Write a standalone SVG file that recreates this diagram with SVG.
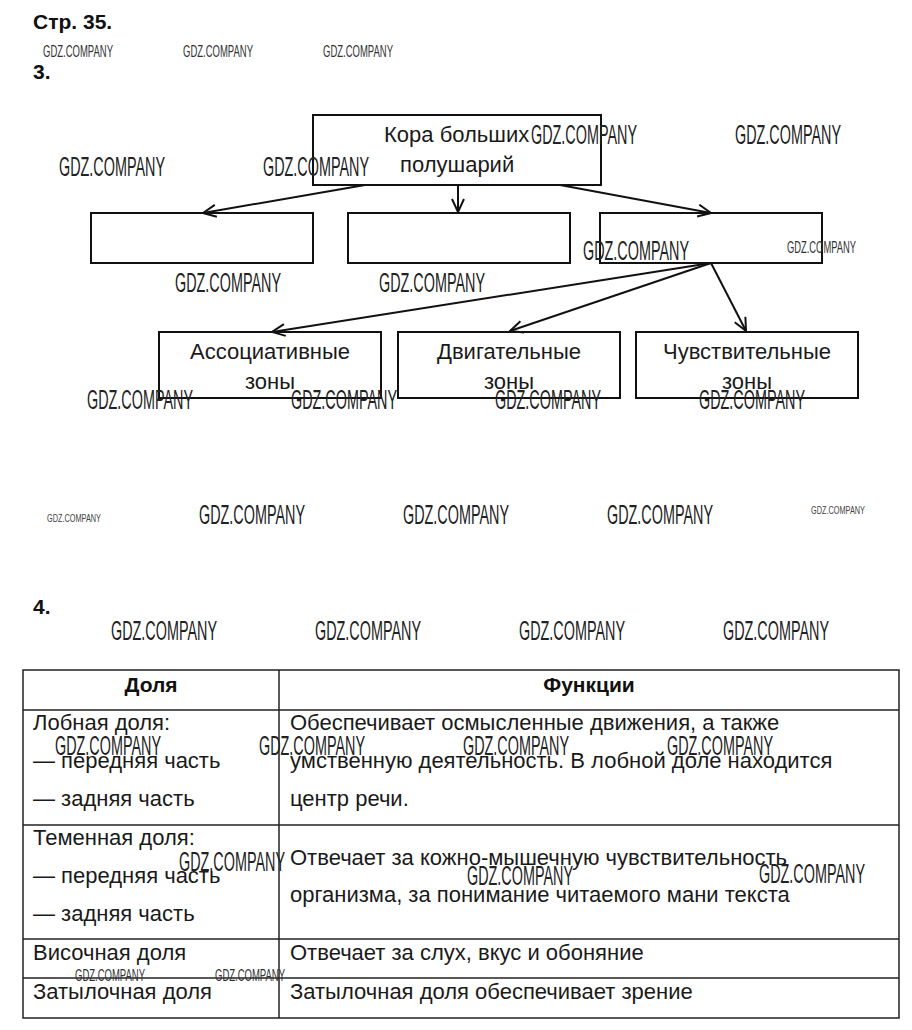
<svg xmlns="http://www.w3.org/2000/svg" width="912" height="1030" viewBox="0 0 912 1030">
<style>
.bg{fill:#fff}
.h{font-family:"Liberation Sans",Arial,sans-serif;font-weight:bold;font-size:21px;fill:#111}
.box{fill:none;stroke:#111;stroke-width:2}
.t{font-family:"Liberation Sans",Arial,sans-serif;font-size:22px;fill:#1a1a1a}
.tc{font-family:"Liberation Sans",Arial,sans-serif;font-size:22px;fill:#1a1a1a;text-anchor:middle}
.th{font-family:"Liberation Sans",Arial,sans-serif;font-size:21px;font-weight:bold;fill:#111;text-anchor:middle}
.wm{font-family:"Liberation Sans",Arial,sans-serif;font-size:27px;fill:#222}
.ws{font-family:"Liberation Sans",Arial,sans-serif;font-size:16px;fill:#333}
.wt{font-family:"Liberation Sans",Arial,sans-serif;font-size:11px;fill:#444}
.conn{fill:none;stroke:#111;stroke-width:2;marker-end:url(#arr)}
.grid{fill:none;stroke:#222;stroke-width:1.5}
</style>
<defs>
<marker id="arr" markerUnits="userSpaceOnUse" markerWidth="16" markerHeight="16" refX="14" refY="7" orient="auto">
<path d="M1,1 L14,7 L1,13" fill="none" stroke="#111" stroke-width="2"/>
</marker>
</defs>
<rect class="bg" x="0" y="0" width="912" height="1030"/>

<text class="h" x="33" y="29">Стр. 35.</text>
<text class="h" x="33" y="79">3.</text>
<text class="h" x="33" y="614">4.</text>

<g id="connectors">
<line class="conn" x1="365" y1="185" x2="203" y2="213"/>
<line class="conn" x1="458" y1="185" x2="458" y2="212"/>
<line class="conn" x1="560" y1="185" x2="711" y2="213"/>
<line class="conn" x1="711" y1="263" x2="272" y2="332"/>
<line class="conn" x1="711" y1="263" x2="510" y2="331"/>
<line class="conn" x1="711" y1="263" x2="746" y2="331"/>
</g>

<g id="node-cortex">
<rect class="box" x="313" y="115" width="288" height="70"/>
<text class="t" x="384" y="142">Кора больших</text>
<text class="t" x="400" y="172">полушарий</text>
</g>
<g id="node-blank1"><rect class="box" x="91" y="213" width="222" height="50"/></g>
<g id="node-blank2"><rect class="box" x="348" y="213" width="222" height="50"/></g>
<g id="node-blank3"><rect class="box" x="600" y="213" width="222" height="50"/></g>
<g id="node-assoc">
<rect class="box" x="159" y="332" width="222" height="66"/>
<text class="tc" x="270" y="359">Ассоциативные</text>
<text class="tc" x="270" y="389">зоны</text>
</g>
<g id="node-motor">
<rect class="box" x="398" y="332" width="222" height="66"/>
<text class="tc" x="509" y="359">Двигательные</text>
<text class="tc" x="509" y="389">зоны</text>
</g>
<g id="node-sensory">
<rect class="box" x="636" y="332" width="222" height="66"/>
<text class="tc" x="747" y="359">Чувствительные</text>
<text class="tc" x="747" y="389">зоны</text>
</g>

<g id="table">
<rect class="grid" x="23" y="670" width="876" height="348"/>
<line class="grid" x1="279" y1="670" x2="279" y2="1018" stroke-width="1"/>
<line class="grid" x1="23" y1="710" x2="899" y2="710"/>
<line class="grid" x1="23" y1="825" x2="899" y2="825"/>
<line class="grid" x1="23" y1="939" x2="899" y2="939"/>
<line class="grid" x1="23" y1="978" x2="899" y2="978"/>
<text class="th" x="151" y="692">Доля</text>
<text class="th" x="589" y="692">Функции</text>
<text class="t" x="33" y="730">Лобная доля:</text>
<text class="t" x="33" y="768">— передняя часть</text>
<text class="t" x="33" y="806">— задняя часть</text>
<text class="t" x="290" y="730">Обеспечивает осмысленные движения, а также</text>
<text class="t" x="290" y="768">умственную деятельность. В лобной доле находится</text>
<text class="t" x="290" y="806">центр речи.</text>
<text class="t" x="33" y="845">Теменная доля:</text>
<text class="t" x="33" y="883">— передняя часть</text>
<text class="t" x="33" y="921">— задняя часть</text>
<text class="t" x="290" y="865">Отвечает за кожно-мышечную чувствительность</text>
<text class="t" x="290" y="902">организма, за понимание читаемого мани текста</text>
<text class="t" x="33" y="960">Височная доля</text>
<text class="t" x="290" y="960">Отвечает за слух, вкус и обоняние</text>
<text class="t" x="33" y="999">Затылочная доля</text>
<text class="t" x="290" y="999">Затылочная доля обеспечивает зрение</text>
</g>

<g id="watermarks">
<text class="ws" x="43" y="57" textLength="70" lengthAdjust="spacingAndGlyphs">GDZ.COMPANY</text>
<text class="ws" x="183" y="57" textLength="70" lengthAdjust="spacingAndGlyphs">GDZ.COMPANY</text>
<text class="ws" x="323" y="57" textLength="70" lengthAdjust="spacingAndGlyphs">GDZ.COMPANY</text>
<text class="wm" x="59" y="176" textLength="106" lengthAdjust="spacingAndGlyphs">GDZ.COMPANY</text>
<text class="wm" x="263" y="176" textLength="106" lengthAdjust="spacingAndGlyphs">GDZ.COMPANY</text>
<text class="wm" x="531" y="144" textLength="106" lengthAdjust="spacingAndGlyphs">GDZ.COMPANY</text>
<text class="wm" x="735" y="144" textLength="106" lengthAdjust="spacingAndGlyphs">GDZ.COMPANY</text>
<text class="wm" x="583" y="260" textLength="106" lengthAdjust="spacingAndGlyphs">GDZ.COMPANY</text>
<text class="ws" x="787" y="253" textLength="69" lengthAdjust="spacingAndGlyphs">GDZ.COMPANY</text>
<text class="wm" x="175" y="292" textLength="106" lengthAdjust="spacingAndGlyphs">GDZ.COMPANY</text>
<text class="wm" x="379" y="292" textLength="106" lengthAdjust="spacingAndGlyphs">GDZ.COMPANY</text>
<text class="wm" x="87" y="409" textLength="106" lengthAdjust="spacingAndGlyphs">GDZ.COMPANY</text>
<text class="wm" x="291" y="409" textLength="106" lengthAdjust="spacingAndGlyphs">GDZ.COMPANY</text>
<text class="wm" x="495" y="409" textLength="106" lengthAdjust="spacingAndGlyphs">GDZ.COMPANY</text>
<text class="wm" x="699" y="409" textLength="106" lengthAdjust="spacingAndGlyphs">GDZ.COMPANY</text>
<text class="wt" x="47" y="522" textLength="54" lengthAdjust="spacingAndGlyphs">GDZ.COMPANY</text>
<text class="wm" x="199" y="524" textLength="106" lengthAdjust="spacingAndGlyphs">GDZ.COMPANY</text>
<text class="wm" x="403" y="524" textLength="106" lengthAdjust="spacingAndGlyphs">GDZ.COMPANY</text>
<text class="wm" x="607" y="524" textLength="106" lengthAdjust="spacingAndGlyphs">GDZ.COMPANY</text>
<text class="wt" x="811" y="514" textLength="54" lengthAdjust="spacingAndGlyphs">GDZ.COMPANY</text>
<text class="wm" x="111" y="640" textLength="106" lengthAdjust="spacingAndGlyphs">GDZ.COMPANY</text>
<text class="wm" x="315" y="640" textLength="106" lengthAdjust="spacingAndGlyphs">GDZ.COMPANY</text>
<text class="wm" x="519" y="640" textLength="106" lengthAdjust="spacingAndGlyphs">GDZ.COMPANY</text>
<text class="wm" x="723" y="640" textLength="106" lengthAdjust="spacingAndGlyphs">GDZ.COMPANY</text>
<text class="wm" x="55" y="755" textLength="106" lengthAdjust="spacingAndGlyphs">GDZ.COMPANY</text>
<text class="wm" x="259" y="755" textLength="106" lengthAdjust="spacingAndGlyphs">GDZ.COMPANY</text>
<text class="wm" x="463" y="755" textLength="106" lengthAdjust="spacingAndGlyphs">GDZ.COMPANY</text>
<text class="wm" x="667" y="755" textLength="106" lengthAdjust="spacingAndGlyphs">GDZ.COMPANY</text>
<text class="wm" x="179" y="871" textLength="106" lengthAdjust="spacingAndGlyphs">GDZ.COMPANY</text>
<text class="wm" x="467" y="885" textLength="106" lengthAdjust="spacingAndGlyphs">GDZ.COMPANY</text>
<text class="wm" x="759" y="883" textLength="106" lengthAdjust="spacingAndGlyphs">GDZ.COMPANY</text>
<text class="ws" x="75" y="981" textLength="70" lengthAdjust="spacingAndGlyphs">GDZ.COMPANY</text>
<text class="ws" x="215" y="981" textLength="70" lengthAdjust="spacingAndGlyphs">GDZ.COMPANY</text>
</g>
</svg>
